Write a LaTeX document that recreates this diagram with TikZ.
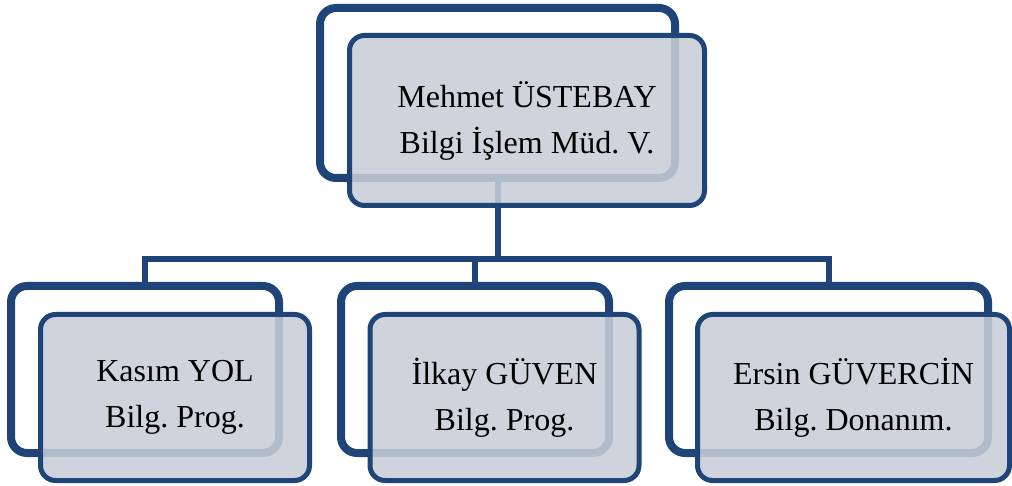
\documentclass[tikz,border=0pt]{standalone}
\usepackage{fontspec}
\setmainfont{Liberation Serif}
\usepackage{tikz}
\usetikzlibrary{shadows}

\definecolor{boxblue}{RGB}{31,68,120}
\definecolor{boxgray}{RGB}{200,205,215}
\frenchspacing

\begin{document}
\begin{tikzpicture}
	[x=1pt,y=-1pt,
	backbox/.style={draw=boxblue,line width=8pt,rounded corners=16pt,fill=white,
		inner sep=0pt,drop shadow={shadow xshift=-3pt,shadow yshift=-3pt,opacity=0.25}},
	frontbox/.style={draw=boxblue,line width=5pt,rounded corners=15pt,fill=boxgray,
		fill opacity=0.87,text opacity=1,inner sep=0pt,align=center,
		font=\fontsize{32}{46}\selectfont},
	link/.style={draw=boxblue,line width=6pt}]
	\useasboundingbox (0,0) rectangle (1012,486);
	% back frames
	\node[backbox,minimum width=355pt,minimum height=170pt] (mgrb) at (497.5,93) {};
	\node[backbox,minimum width=268pt,minimum height=167pt] (c1b) at (145,369.5) {};
	\node[backbox,minimum width=268pt,minimum height=167pt] (c2b) at (475,369.5) {};
	\node[backbox,minimum width=319pt,minimum height=167pt] (c3b) at (828.5,369.5) {};
	% connectors
	\coordinate (bus) at (497.5,259);
	\draw[link] (mgrb.south) -- (bus);
	\foreach \to in {c1b,c2b,c3b}
	\draw[link] (bus) -| (\to.north);
	% front boxes
	\node[frontbox,minimum width=355pt,minimum height=170pt] (mgr) at (527,120.5)
		{Mehmet ÜSTEBAY\\Bilgi İşlem Müd. V.};
	\node[frontbox,minimum width=269pt,minimum height=166pt] (c1) at (175,397.5)
		{Kasım YOL\\Bilg. Prog.};
	\node[frontbox,minimum width=269pt,minimum height=166pt] (c2) at (504.5,397.5)
		{İlkay GÜVEN\\Bilg. Prog.};
	\node[frontbox,minimum width=312pt,minimum height=166pt] (c3) at (853.5,397.5)
		{Ersin GÜVERCİN\\Bilg. Donanım.};
\end{tikzpicture}
\end{document}
